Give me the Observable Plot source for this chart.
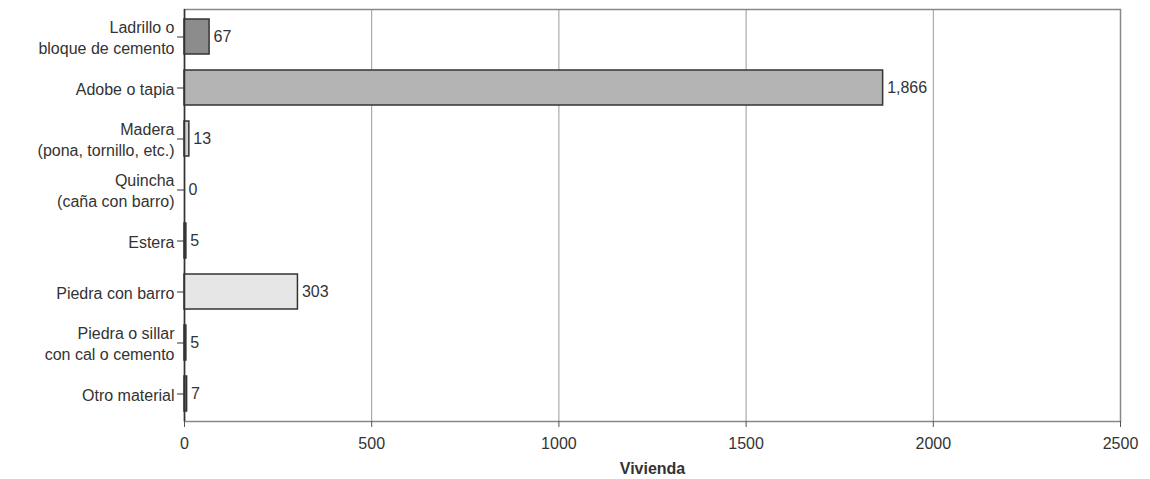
<!DOCTYPE html>
<html>
<head>
<meta charset="utf-8">
<script src="https://cdn.jsdelivr.net/npm/d3@7"></script>
<script src="https://cdn.jsdelivr.net/npm/@observablehq/plot@0.6"></script>
<style>
  body { margin: 0; background: #fff; }
  #chart svg [aria-label="x-axis label"] text { font-weight: bold; }
</style>
</head>
<body>
<div id="chart"></div>
<script>
const categories = [
  "Ladrillo o\nbloque de cemento",
  "Adobe o tapia",
  "Madera\n(pona, tornillo, etc.)",
  "Quincha\n(caña con barro)",
  "Estera",
  "Piedra con barro",
  "Piedra o sillar\ncon cal o cemento",
  "Otro material"
];
const values = [67, 1866, 13, 0, 5, 303, 5, 7];
const fills = ["#8c8c8c", "#b4b4b4", "#cfcfcf", "#cfcfcf", "#666666", "#e6e6e6", "#666666", "#666666"];
const xTicks = [0, 500, 1000, 1500, 2000, 2500];

const data = categories.map((c, i) => ({cat: c, value: values[i], fill: fills[i]}));

const chart = Plot.plot({
  width: 1150,
  height: 479,
  marginTop: 9,
  marginLeft: 184,
  marginRight: 30,
  marginBottom: 58,
  style: {fontFamily: "Liberation Sans, Arial, sans-serif", fontSize: "15px", color: "#333", background: "#fff"},
  x: {domain: [0, 2500]},
  y: {domain: categories, paddingInner: 0.32, paddingOuter: 0.16},
  marks: [
    Plot.gridX(xTicks.slice(1, -1), {stroke: "#999", strokeOpacity: 1}),
    Plot.frame({stroke: "#888", strokeWidth: 1.5}),
    Plot.barX(data.filter(d => d.value > 0), {x: "value", y: "cat", fill: "fill", stroke: "#333", strokeWidth: 1.5}),
    Plot.text(data, {x: "value", y: "cat", text: d => d3.format(",")(d.value), dx: 4, textAnchor: "start", fontSize: 16, fill: "#333"}),
    Plot.ruleX([0], {stroke: "#333", strokeWidth: 1.5}),
    Plot.ruleY([0], {stroke: "#777", strokeWidth: 3}),
    Plot.axisY({tickSize: 7, tickPadding: 3, label: null, fontSize: 16, lineHeight: 1.3, stroke: "#333"}),
    Plot.axisX({ticks: xTicks, tickFormat: d => String(d), tickSize: 6, tickPadding: 10, fontSize: 16, label: "Vivienda", labelAnchor: "center", labelArrow: "none", labelOffset: 52, stroke: "#555"})
  ]
});
document.getElementById("chart").appendChild(chart);
</script>
</body>
</html>
